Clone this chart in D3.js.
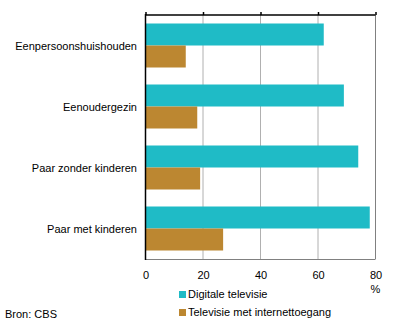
<!DOCTYPE html>
<html><head><meta charset="utf-8">
<script src="https://cdn.jsdelivr.net/npm/d3@7"></script>
<style>body{margin:0;background:#fff}svg{display:block}text{font-family:"Liberation Sans",Arial,sans-serif;font-size:11px;fill:#000}</style>
</head><body>
<svg id="c" width="396" height="324"></svg>
<script>
const categories = ["Eenpersoonshuishouden","Eenoudergezin","Paar zonder kinderen","Paar met kinderen"];
const digitaleTV = [62, 69, 74, 78];
const internetTV = [14, 18, 19, 27];
const seriesNames = ["Digitale televisie","Televisie met internettoegang"];
const ticks = [0, 20, 40, 60, 80];

const colors = ["#1fbbc6", "#bc8731"];
const svg = d3.select("#c");
const L = 145.5, R = 375.5, T = 15, B = 259;
const x = d3.scaleLinear().domain([0, 80]).range([L, R]);
const y = d3.scaleBand().domain(categories).range([T, B]).paddingInner(17/61).paddingOuter(8.5/61);
const sub = d3.scaleBand().domain([0,1]).range([0, y.bandwidth()]);

// grid
svg.append("g").selectAll("line").data(ticks.slice(1)).join("line")
  .attr("x1", d => x(d)).attr("x2", d => x(d)).attr("y1", T).attr("y2", B)
  .attr("stroke", d => d === 80 ? "#808080" : "#b0b0b0").attr("stroke-width", 1);
// bottom border
svg.append("line").attr("x1", L).attr("x2", R).attr("y1", B+0.5).attr("y2", B+0.5).attr("stroke", "#808080");

const data = categories.map((c, i) => ({c, v: [digitaleTV[i], internetTV[i]]}));
const g = svg.append("g");
data.forEach(d => {
  d.v.forEach((v, k) => {
    g.append("rect").attr("x", x(0)).attr("y", y(d.c) + sub(k))
      .attr("width", x(v) - x(0)).attr("height", sub.bandwidth()).attr("fill", colors[k]);
  });
});

// top axis
const topAxis = d3.axisTop(x).tickValues(ticks).tickSize(3).tickFormat("");
const ga = svg.append("g").attr("transform", `translate(0,${T})`).call(topAxis);
ga.select(".domain").attr("stroke", "#000").attr("stroke-width", 1.5).attr("d", `M${L},0H${R}`);
ga.selectAll(".tick line").attr("stroke", "#000").attr("stroke-width", 1.5);

// left axis
svg.append("line").attr("x1", L).attr("x2", L).attr("y1", T-1).attr("y2", B+1).attr("stroke", "#000").attr("stroke-width", 1.5);

// bottom tick labels
const botAxis = d3.axisBottom(x).tickValues(ticks).tickSize(0).tickPadding(0);
const gb = svg.append("g").attr("transform", `translate(0,${B+20})`).call(botAxis);
gb.select(".domain").remove();
gb.selectAll("text").attr("dy", 0).style("font-size", "11px").style("font-family", '"Liberation Sans",Arial,sans-serif');
svg.append("text").attr("x", x(80)).attr("y", 293).attr("text-anchor", "middle").text("%");

// category labels
svg.append("g").selectAll("text").data(categories).join("text")
  .attr("x", 137).attr("y", d => y(d) + y.bandwidth()/2 + 4).attr("text-anchor", "end").text(d => d);

// legend
const lg = svg.append("g");
seriesNames.forEach((n, k) => {
  lg.append("rect").attr("x", 179).attr("y", 291 + k*18).attr("width", 7).attr("height", 7).attr("fill", colors[k]);
  lg.append("text").attr("x", 188).attr("y", 298 + k*18).text(n);
});
svg.append("text").attr("x", 5).attr("y", 318).text("Bron: CBS");
</script>
</body></html>
